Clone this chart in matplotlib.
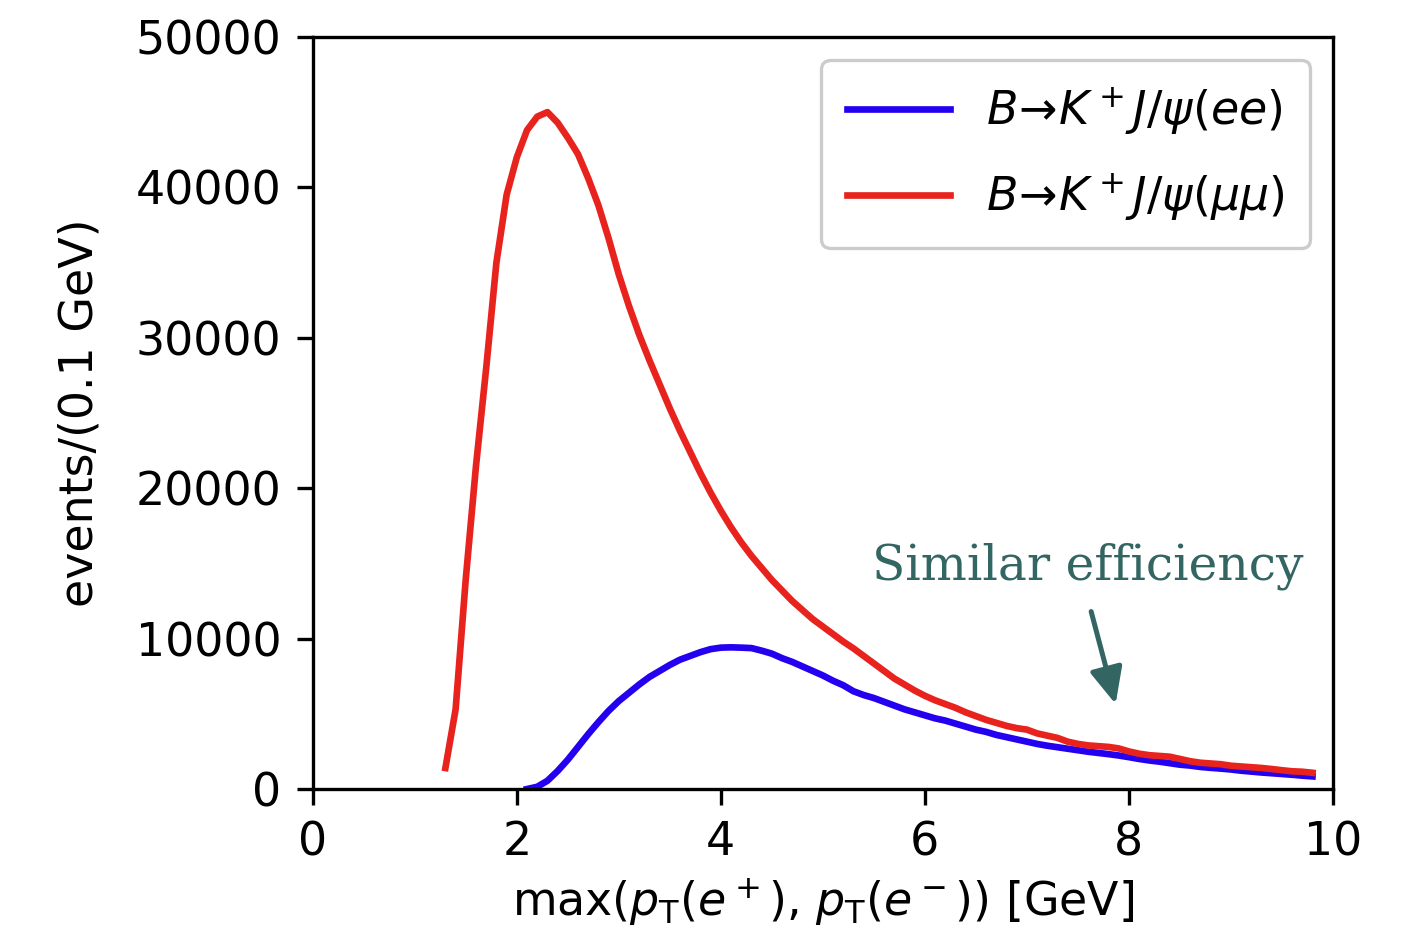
import numpy as np
import matplotlib
matplotlib.use("Agg")
import matplotlib.pyplot as plt

# ==============================
# DATA
# ==============================
x_mumu = [1.3, 1.4, 1.5, 1.6, 1.7, 1.8, 1.9, 2.0, 2.1, 2.2,
          2.3, 2.4, 2.5, 2.6, 2.7, 2.8, 2.9, 3.0, 3.1, 3.2,
          3.3, 3.4, 3.5, 3.6, 3.7, 3.8, 3.9, 4.0, 4.1, 4.2,
          4.3, 4.4, 4.5, 4.6, 4.7, 4.8, 4.9, 5.0, 5.1, 5.2,
          5.3, 5.4, 5.5, 5.6, 5.7, 5.8, 5.9, 6.0, 6.1, 6.2,
          6.3, 6.4, 6.5, 6.6, 6.7, 6.8, 6.9, 7.0, 7.1, 7.2,
          7.3, 7.4, 7.5, 7.6, 7.7, 7.8, 7.9, 8.0, 8.1, 8.2,
          8.3, 8.4, 8.5, 8.6, 8.7, 8.8, 8.9, 9.0, 9.1, 9.2,
          9.3, 9.4, 9.5, 9.6, 9.7, 9.8]
y_mumu = [1400, 5300, 14000, 21500, 28000, 35000, 39500, 42000, 43800, 44700,
          45000, 44300, 43300, 42200, 40600, 38800, 36600, 34200, 32100, 30200,
          28500, 26900, 25300, 23800, 22400, 21000, 19700, 18500, 17400, 16400,
          15500, 14700, 13900, 13200, 12500, 11900, 11300, 10800, 10300, 9800,
          9350, 8850, 8350, 7850, 7350, 6950, 6550, 6200, 5900, 5650,
          5400, 5100, 4850, 4600, 4400, 4200, 4050, 3950, 3700, 3550,
          3400, 3150, 3000, 2900, 2850, 2800, 2700, 2500, 2350, 2250,
          2200, 2150, 2000, 1850, 1750, 1700, 1650, 1550, 1500, 1450,
          1400, 1330, 1250, 1180, 1150, 1080]

x_ee = [2.1, 2.2, 2.3, 2.4, 2.5, 2.6, 2.7, 2.8, 2.9, 3.0,
        3.1, 3.2, 3.3, 3.4, 3.5, 3.6, 3.7, 3.8, 3.9, 4.0,
        4.1, 4.2, 4.3, 4.4, 4.5, 4.6, 4.7, 4.8, 4.9, 5.0,
        5.1, 5.2, 5.3, 5.4, 5.5, 5.6, 5.7, 5.8, 5.9, 6.0,
        6.1, 6.2, 6.3, 6.4, 6.5, 6.6, 6.7, 6.8, 6.9, 7.0,
        7.1, 7.2, 7.3, 7.4, 7.5, 7.6, 7.7, 7.8, 7.9, 8.0,
        8.1, 8.2, 8.3, 8.4, 8.5, 8.6, 8.7, 8.8, 8.9, 9.0,
        9.1, 9.2, 9.3, 9.4, 9.5, 9.6, 9.7, 9.8]
y_ee = [0, 150, 550, 1200, 1950, 2800, 3650, 4450, 5200, 5850,
        6400, 6950, 7450, 7850, 8250, 8600, 8850, 9100, 9300, 9400,
        9420, 9400, 9370, 9200, 9000, 8700, 8450, 8150, 7850, 7550,
        7200, 6900, 6500, 6250, 6050, 5800, 5550, 5300, 5100, 4900,
        4700, 4550, 4350, 4150, 3950, 3800, 3600, 3450, 3300, 3150,
        3000, 2880, 2780, 2680, 2580, 2480, 2400, 2320, 2230, 2120,
        2000, 1900, 1820, 1720, 1620, 1560, 1470, 1410, 1360, 1300,
        1220, 1160, 1100, 1050, 1000, 950, 890, 840]

labels = [r"$B\!\to\!K^+ J/\psi(ee)$", r"$B\!\to\!K^+ J/\psi(\mu\mu)$"]
colors = ["#2400f0", "#e8231d"]

x_ticks = [0, 2, 4, 6, 8, 10]
y_ticks = [0, 10000, 20000, 30000, 40000, 50000]


# ==============================
# PLOT
# ==============================
def main():
    plt.rcParams["font.family"] = "DejaVu Sans"
    plt.rcParams["mathtext.fontset"] = "dejavusans"

    fig = plt.figure(figsize=(14.09, 9.39), dpi=100)
    ax = fig.add_axes([0.222, 0.1597, 0.724, 0.801])

    ax.plot(x_ee, y_ee, color=colors[0], lw=4.8, label=labels[0])
    ax.plot(x_mumu, y_mumu, color=colors[1], lw=4.8, label=labels[1])

    ax.set_xlim(0, 10)
    ax.set_ylim(0, 50000)
    ax.set_xticks(x_ticks)
    ax.set_yticks(y_ticks)
    ax.tick_params(labelsize=33, width=2.4, length=11.5, pad=11)
    for sp in ax.spines.values():
        sp.set_linewidth(2.4)

    ax.set_xlabel(r"max($p_\mathrm{T}(e^+)$, $p_\mathrm{T}(e^-)$) [GeV]",
                  fontsize=33, labelpad=8)
    ax.set_ylabel("events/(0.1 GeV)", fontsize=33, labelpad=24)

    leg = ax.legend(loc="upper right", fontsize=33, handlelength=2.25,
                    borderaxespad=0.5, labelspacing=0.75, handletextpad=0.8,
                    borderpad=0.55, fancybox=True, framealpha=1.0)
    leg.get_frame().set_edgecolor("#cccccc")
    leg.get_frame().set_linewidth(2.4)

    teal = "#336663"
    ax.text(7.6, 14800, "Similar efficiency", color=teal, fontsize=35,
            family="DejaVu Serif", ha="center", va="center")
    ax.annotate("", xy=(7.87, 5650), xytext=(7.63, 11800),
                arrowprops=dict(arrowstyle="-|>,head_length=1.1,head_width=0.5",
                                mutation_scale=20, color=teal, lw=3.6,
                                shrinkA=0, shrinkB=0))

    fig.savefig("out.png", dpi=100)


if __name__ == "__main__":
    main()
